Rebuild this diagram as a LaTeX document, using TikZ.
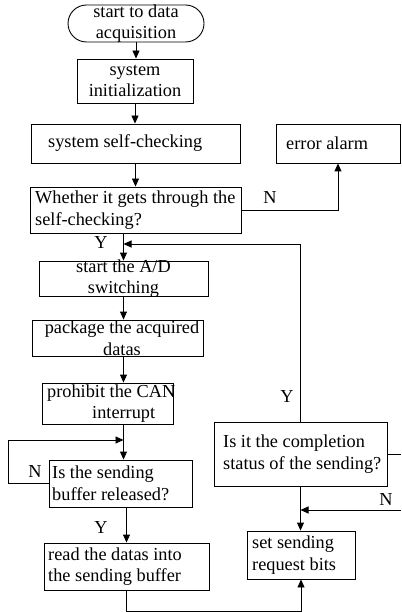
\documentclass[tikz,border=0pt]{standalone}
\usepackage{fontspec}
\setmainfont{Liberation Serif}
\usetikzlibrary{arrows.meta,shapes.misc}
\begin{document}
\begin{tikzpicture}[x=1pt,y=-1pt,
  box/.style={draw, line width=0.9pt, inner sep=0pt},
  txt/.style={inner sep=0pt, font=\fontsize{18.3}{21.5}\selectfont, align=left},
  ctxt/.style={txt, align=center},
  lbl/.style={inner sep=0pt, font=\fontsize{18.3}{21.5}\selectfont},
  conn/.style={line width=0.9pt},
  arr/.style={conn, -{Triangle[length=8pt,width=7pt]}},
]
\useasboundingbox (0,0) rectangle (401,612);

% boxes
\node[box, rounded rectangle, minimum width=136pt, minimum height=37pt] (start) at (136,23.5) {};
\node[box, minimum width=116pt, minimum height=44pt] (init) at (135,81) {};
\node[box, minimum width=209pt, minimum height=39pt] (self) at (135.5,143.5) {};
\node[box, minimum width=211pt, minimum height=46pt] (whether) at (135.5,210) {};
\node[box, minimum width=124pt, minimum height=39pt] (error) at (338,143.5) {};
\node[box, minimum width=169pt, minimum height=35pt] (ad) at (123.5,278.5) {};
\node[box, minimum width=171pt, minimum height=36pt] (pkg) at (117.5,338) {};
\node[box, minimum width=131pt, minimum height=41pt] (prohibit) at (107.5,403.5) {};
\node[box, minimum width=143pt, minimum height=47pt] (buffer) at (120.5,483.5) {};
\node[box, minimum width=165pt, minimum height=47pt] (read) at (126.5,566.5) {};
\node[box, minimum width=173pt, minimum height=64pt] (comp) at (300.5,454) {};
\node[box, minimum width=108pt, minimum height=48pt] (set) at (301,555) {};

% texts
\node[ctxt] (tstart) at (start) {start to data\\acquisition};
\node[ctxt] (tinit) at (init) {system\\initialization};
\node[txt, anchor=west] (tself) at (48,143.5) {system self-checking};
\node[txt, anchor=west] (twhether) at (35,210) {Whether it gets through the\\self-checking?};
\node[txt, anchor=west] (terror) at (286,143.5) {error alarm};
\node[ctxt] (tad) at (ad) {start the A/D\\switching};
\node[ctxt] (tpkg) at (122,338) {package the acquired\\datas};
\node[txt, anchor=west] (tprohibit) at (47,403.5) {prohibit the CAN\\\hspace*{45pt}interrupt};
\node[txt, anchor=west] (tbuffer) at (52,483.5) {Is the sending\\buffer released?};
\node[txt, anchor=west] (tread) at (48,566.5) {read the datas into\\the sending buffer};
\node[txt, anchor=west] (tcomp) at (223,454) {Is it the completion\\status of the sending?};
\node[txt, anchor=west] (tset) at (252,555) {set sending\\request bits};

% helper coordinates
\coordinate (loopL) at (8,440);
\coordinate (bot) at (0,611);
\coordinate (fb) at (0,244);
\coordinate (edgeA) at (401,0);
\coordinate (nin) at (401,510);

% connectors
\draw[arr] (start.south) -- (start.south |- init.north);
\draw[arr] (init.south) -- (init.south |- self.north);
\draw[arr] (self.south) -- (self.south |- whether.north);
\draw[arr] (whether.south -| ad.north) -- (ad.north);
\draw[arr] (ad.south) -- (ad.south |- pkg.north);
\draw[arr] (ad.south |- pkg.south) -- (ad.south |- prohibit.north);
\draw[arr] (ad.south |- prohibit.south) -- (ad.south |- buffer.north);
\draw[arr] (buffer.west) -| (loopL) -- (loopL -| ad.south);
\draw[arr] (read.north |- buffer.south) -- (read.north);
\draw[arr] (read.south) -- (read.south |- bot) -| (set.south);
\draw[arr] (whether.east) -| (error.south);
\draw[arr] (comp.north) -- (comp.north |- fb) -- (fb -| ad.north);
\draw[arr] (comp.south) -- (comp.south |- set.north);
\draw[conn] (comp.east) -- (comp.east -| edgeA);
\draw[arr] (nin) -- (nin -| comp.south);

% labels
\node[lbl] (lN1) at (270,198) {N};
\node[lbl] (lY1) at (101,243) {Y};
\node[lbl] (lY2) at (287,397) {Y};
\node[lbl] (lN2) at (35,472) {N};
\node[lbl] (lY3) at (101,528) {Y};
\node[lbl] (lN3) at (386,500) {N};
\end{tikzpicture}
\end{document}
